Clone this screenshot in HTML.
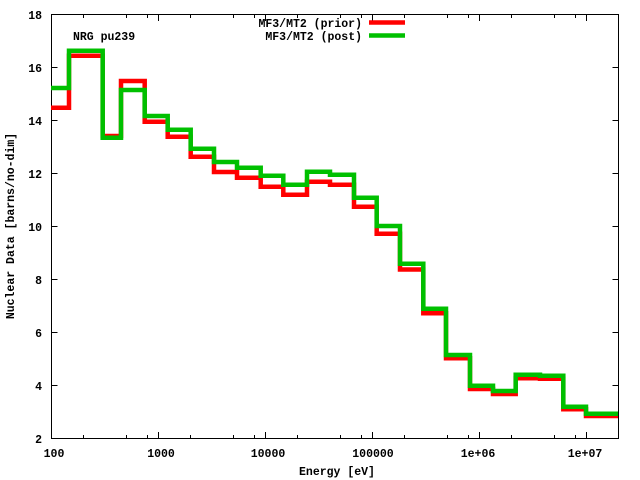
<!DOCTYPE html>
<html><head><meta charset="utf-8"><style>
html,body{margin:0;padding:0;background:#fff;}
svg{display:block;}
text{font-family:"Liberation Mono",monospace;font-weight:bold;font-size:11.5px;fill:#000;}
</style></head><body>
<svg width="640" height="480" viewBox="0 0 640 480" xmlns="http://www.w3.org/2000/svg">
<rect width="640" height="480" fill="#fff"/>
<g stroke="#000" stroke-width="1" fill="none">
<rect x="51.5" y="14.5" width="567" height="424"/>
<path d="M51.5 67.5h6M51.5 120.5h6M51.5 173.5h6M51.5 226.5h6M51.5 279.5h6M51.5 332.5h6M51.5 385.5h6
M618.5 67.5h-6M618.5 120.5h-6M618.5 173.5h-6M618.5 226.5h-6M618.5 279.5h-6M618.5 332.5h-6M618.5 385.5h-6"/>
<path d="M158.5 438v-6M265.5 438v-6M372.5 438v-6M479.5 438v-6M586.5 438v-6
M158.5 15v6M265.5 15v6M372.5 15v6M479.5 15v6M586.5 15v6
M83.5 438v-3M126.5 438v-3M147.5 438v-3M190.5 438v-3M233.5 438v-3M254.5 438v-3M297.5 438v-3M340.5 438v-3M361.5 438v-3M404.5 438v-3M447.5 438v-3M468.5 438v-3M511.5 438v-3M554.5 438v-3M575.5 438v-3M618.5 438v-3
M83.5 15v3M126.5 15v3M147.5 15v3M190.5 15v3M233.5 15v3M254.5 15v3M297.5 15v3M340.5 15v3M361.5 15v3M404.5 15v3M447.5 15v3M468.5 15v3M511.5 15v3M554.5 15v3M575.5 15v3"/>
</g>
<g text-anchor="end">
<text x="42" y="19">18</text><text x="42" y="72">16</text><text x="42" y="125">14</text><text x="42" y="178">12</text>
<text x="42" y="231">10</text><text x="42" y="284">8</text><text x="42" y="337">6</text><text x="42" y="390">4</text><text x="42" y="443">2</text>
</g>
<g text-anchor="middle">
<text x="54" y="457">100</text><text x="161" y="457">1000</text><text x="268" y="457">10000</text><text x="373" y="457">100000</text>
<text x="478" y="457">1e+06</text><text x="585" y="457">1e+07</text>
<text x="337" y="475">Energy [eV]</text>
<text transform="translate(14,226) rotate(-90)">Nuclear Data [barns/no-dim]</text>
</g>
<text x="73" y="40">NRG pu239</text>
<text x="362" y="27" text-anchor="end">MF3/MT2 (prior)</text>
<text x="362" y="40" text-anchor="end">MF3/MT2 (post)</text>
<path d="M369 22.5h36" stroke="#f00" stroke-width="4.5"/>
<path d="M369 35.5h36" stroke="#00c000" stroke-width="4.5"/>
<path fill="none" stroke="#f00" stroke-width="4.5" d="M51 107.7H69V55.7H102.7V136H121V81H144.7V121.7H167.7V136.7H190.7V156.7H214V172H237V177.7H260.7V186.7H283.3V194.7H307V181.7H330V184.7H354V206.7H376.7V233.7H400V269.5H423.3V313.3H446V358.3H470V389H493V394H515.7V378.3H540V378.7H563.3V409.3H586V416H618"/>
<path fill="none" stroke="#00c000" stroke-width="4.5" d="M51 88H69V50.7H102.7V137.7H121V90H144.7V116H167.7V129.7H190.7V148.7H214V162H237V167.7H260.7V175.7H283.3V184.7H307V171.7H330V174.7H354V197.7H376.7V226H400V263.7H423.3V308.7H446V355H470V385.7H493V391H515.7V374.7H540V375.7H563.3V406.7H586V413.7H618"/>
</svg>
</body></html>
